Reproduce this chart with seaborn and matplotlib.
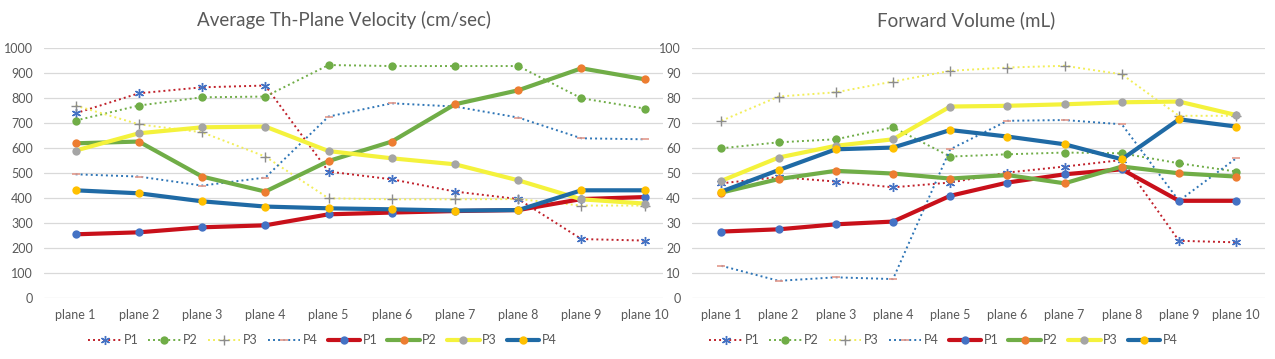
import numpy as np
import pandas as pd
import matplotlib
matplotlib.use("Agg")
import matplotlib.pyplot as plt
import seaborn as sns

# Categories (x axis)
planes = ["plane 1", "plane 2", "plane 3", "plane 4", "plane 5",
          "plane 6", "plane 7", "plane 8", "plane 9", "plane 10"]
series_names = ["P1", "P2", "P3", "P4"]

# Average Th-Plane Velocity (cm/sec) - dotted series
vel_dot_p1 = [740, 820, 844, 851, 507, 476, 427, 397, 237, 231]
vel_dot_p2 = [711, 771, 804, 807, 933, 929, 929, 929, 800, 759]
vel_dot_p3 = [771, 696, 664, 567, 400, 396, 396, 397, 371, 371]
vel_dot_p4 = [496, 487, 451, 483, 727, 780, 767, 723, 640, 636]
# Average Th-Plane Velocity (cm/sec) - solid series
vel_p1 = [256, 264, 284, 292, 336, 343, 349, 353, 397, 405]
vel_p2 = [620, 627, 487, 427, 549, 627, 776, 832, 920, 876]
vel_p3 = [591, 660, 684, 687, 589, 560, 536, 472, 396, 379]
vel_p4 = [432, 420, 388, 367, 360, 356, 351, 353, 432, 432]

# Forward Volume (mL) - dotted series
vol_dot_p1 = [46.0, 48.5, 46.7, 44.4, 46.3, 50.3, 52.7, 55.3, 23.0, 22.4]
vol_dot_p2 = [60.0, 62.4, 63.6, 68.4, 56.7, 57.6, 58.3, 58.0, 54.0, 50.7]
vol_dot_p3 = [71.0, 80.7, 82.4, 86.7, 91.0, 92.3, 93.0, 89.6, 73.0, 73.0]
vol_dot_p4 = [13.0, 7.0, 8.4, 7.7, 59.6, 71.0, 71.3, 69.6, 39.0, 56.0]
# Forward Volume (mL) - solid series
vol_p1 = [26.7, 27.6, 29.6, 30.7, 41.0, 46.3, 49.6, 51.6, 39.0, 39.0]
vol_p2 = [42.3, 47.7, 51.0, 49.9, 47.9, 49.3, 46.0, 52.7, 50.0, 48.7]
vol_p3 = [47.0, 56.3, 61.0, 63.6, 76.7, 77.0, 77.6, 78.4, 78.7, 73.3]
vol_p4 = [42.7, 51.3, 59.6, 60.3, 67.3, 64.7, 61.6, 55.6, 71.6, 68.7]

# styles: dotted series first, solid series drawn on top
dot_styles = [
    dict(color="#c0202a", marker=(6, 2, 0), mfc="#4472c4", mec="#4472c4", ms=6.5, mew=1.0),
    dict(color="#70ad47", marker="o", mfc="#70ad47", mec="#70ad47", ms=6, mew=0),
    dict(color="#f2ee5a", marker="+", mfc="#8c8c8c", mec="#8c8c8c", ms=7, mew=1.0),
    dict(color="#2e75b6", marker="_", mfc="#e39a8c", mec="#e39a8c", ms=6, mew=1.2),
]
solid_styles = [
    dict(color="#c8101a", marker="o", mfc="#4472c4", mec="#4472c4", ms=6, mew=0),
    dict(color="#70ad47", marker="o", mfc="#ed7d31", mec="#ed7d31", ms=6, mew=0),
    dict(color="#f4f23c", marker="o", mfc="#a5a5a5", mec="#a5a5a5", ms=6, mew=0),
    dict(color="#1f6aa5", marker="o", mfc="#ffc000", mec="#ffc000", ms=6, mew=0),
]

sns.set_style("white")
plt.rcParams["font.family"] = ["Lato", "DejaVu Sans"]

fig = plt.figure(figsize=(12.75, 3.59), dpi=100)
ax1 = fig.add_axes([0.0345, 0.169, 0.4855, 0.6965])
ax2 = fig.add_axes([0.5425, 0.169, 0.4495, 0.6965])

charts = [
    (ax1, "Average Th-Plane Velocity (cm/sec)",
     [vel_dot_p1, vel_dot_p2, vel_dot_p3, vel_dot_p4],
     [vel_p1, vel_p2, vel_p3, vel_p4], 1000, 100, (-0.5, 9.29), 0.253, 0.27),
    (ax2, "Forward Volume (mL)",
     [vol_dot_p1, vol_dot_p2, vol_dot_p3, vol_dot_p4],
     [vol_p1, vol_p2, vol_p3, vol_p4], 100, 10, (-0.52, 9.5), 0.740, 0.758),
]

pos = np.arange(len(planes))
for ax, title, dots, solids, ymax, step, xlim, leg_x, title_x in charts:
    for name, vals, st in zip(series_names, dots, dot_styles):
        df = pd.DataFrame({"pos": pos, "val": vals})
        sns.lineplot(data=df, x="pos", y="val", ax=ax, color=st["color"], lw=1.4,
                     linestyle=(0, (1, 1.6)), marker=st["marker"], markersize=st["ms"],
                     markerfacecolor=st["mfc"], markeredgecolor=st["mec"],
                     markeredgewidth=st["mew"], label=name)
    for name, vals, st in zip(series_names, solids, solid_styles):
        df = pd.DataFrame({"pos": pos, "val": vals})
        sns.lineplot(data=df, x="pos", y="val", ax=ax, color=st["color"], lw=3.0,
                     marker=st["marker"], markersize=st["ms"],
                     markerfacecolor=st["mfc"], markeredgecolor=st["mec"],
                     markeredgewidth=st["mew"], label=name)

    ax.set_ylim(0, ymax)
    ax.set_xlim(*xlim)
    ax.set_yticks(np.arange(0, ymax + step, step))
    ax.set_xticks(pos)
    ax.set_xticklabels(planes)
    ax.tick_params(axis="both", length=0, labelsize=9, labelcolor="#595959")
    ax.tick_params(axis="y", pad=8)
    ax.tick_params(axis="x", pad=8)
    ax.grid(axis="y", color="#d9d9d9", lw=0.9)
    ax.set_axisbelow(True)
    for s in ax.spines.values():
        s.set_visible(False)
    ax.set_xlabel("")
    ax.set_ylabel("")

    h, l = ax.get_legend_handles_labels()
    if ax.legend_:
        ax.legend_.remove()
    fig.legend(h, l, loc="center", bbox_to_anchor=(leg_x, 0.053), ncol=8,
               frameon=False, fontsize=9, labelcolor="#595959", handlelength=2.6,
               columnspacing=0.8, handletextpad=0.2)

    fig.text(title_x, 0.945, title, ha="center", va="center",
             fontsize=13.5, color="#595959")

fig.savefig("out.png", dpi=100)
